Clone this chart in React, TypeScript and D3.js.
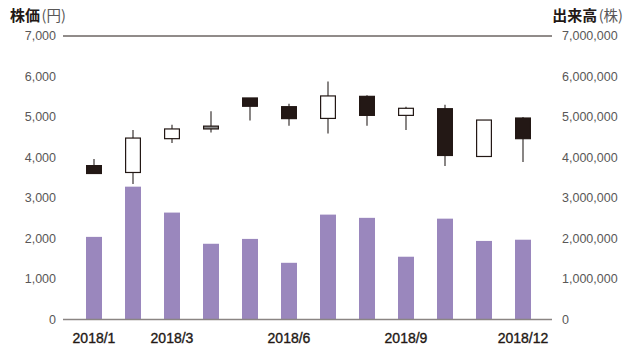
import React from "react";
import * as d3 from "d3";

const months = ["2018/1","2018/2","2018/3","2018/4","2018/5","2018/6","2018/7","2018/8","2018/9","2018/10","2018/11","2018/12"];
const openPrice = [3800, 3630, 4465, 4705, 5470, 5255, 4965, 5510, 5040, 5205, 4025, 4975];
const closePrice = [3605, 4480, 4705, 4775, 5265, 4960, 5520, 5040, 5215, 4050, 4925, 4465];
const highPrice = [3960, 4680, 4810, 5140, 5470, 5330, 5875, 5535, 5255, 5300, 4925, 5000];
const lowPrice = [3605, 3345, 4360, 4620, 4915, 4785, 4590, 4785, 4680, 3790, 4010, 3890];
const volume = [2040000, 3280000, 2640000, 1870000, 1990000, 1400000, 2590000, 2510000, 1550000, 2490000, 1940000, 1970000];
const priceTicks = [0, 1000, 2000, 3000, 4000, 5000, 6000, 7000];
const volumeTicks = [0, 1000000, 2000000, 3000000, 4000000, 5000000, 6000000, 7000000];
const xTickLabels = ["2018/1", "2018/3", "2018/6", "2018/9", "2018/12"];

const W = 625, H = 347;
const plotLeft = 63, plotRight = 552, yTop = 36, yBottom = 319.5;

export default function App() {
  const x = d3.scaleBand<string>().domain(months).range([74.5, 542.5]).paddingInner(0.59).paddingOuter(0.295);
  const yP = d3.scaleLinear().domain([0, 7000]).range([yBottom, yTop]);
  const yV = d3.scaleLinear().domain([0, 7000000]).range([yBottom, yTop]);
  const fmt = d3.format(",");
  const bw = x.bandwidth();
  const dark = "#231815";
  const tickFont = "'Liberation Sans', Arial, sans-serif";
  const cjk = "'Noto Sans CJK JP', sans-serif";

  return (
    <svg width={W} height={H} style={{ position: "absolute", left: 0, top: 0 }}>
      <rect width={W} height={H} fill="#fff" />
      {months.map((m, i) => (
        <rect key={"v" + m} x={x(m)} y={yV(volume[i])} width={bw} height={yV(0) - yV(volume[i])} fill="#9a87bd" />
      ))}
      <line x1={plotLeft} x2={plotRight} y1={yP(7000)} y2={yP(7000)} stroke={dark} strokeWidth={1} />
      <line x1={plotLeft} x2={plotRight} y1={yP(0)} y2={yP(0)} stroke="#8a8583" strokeWidth={1.5} />
      {months.map((m, i) => {
        const o = openPrice[i], c = closePrice[i];
        const cx = (x(m) as number) + bw / 2;
        const up = c >= o;
        const doji = Math.abs(c - o) < 100;
        const fill = doji ? "#8c8c8c" : up ? "#fff" : dark;
        const top = yP(Math.max(o, c)), bot = yP(Math.min(o, c));
        return (
          <g key={"c" + m}>
            <line x1={cx} x2={cx} y1={yP(highPrice[i])} y2={yP(lowPrice[i])} stroke="#4a4443" strokeWidth={1.3} />
            <rect x={(x(m) as number) + 0.6} y={top} width={bw - 1.2} height={Math.max(bot - top, 1)} fill={fill} stroke={dark} strokeWidth={1.2} />
          </g>
        );
      })}
      {priceTicks.map(t => (
        <text key={"p" + t} x={56} y={yP(t)} dy="0.35em" textAnchor="end" fontFamily={tickFont} fontSize={12.5} fill="#595757">{fmt(t)}</text>
      ))}
      {volumeTicks.map(t => (
        <text key={"r" + t} x={562} y={yV(t)} dy="0.35em" textAnchor="start" fontFamily={tickFont} fontSize={12.5} fill="#595757">{fmt(t)}</text>
      ))}
      {xTickLabels.map(l => (
        <text key={"x" + l} x={(x(l) as number) + bw / 2} y={343} textAnchor="middle" fontFamily={tickFont} fontSize={14} fill={dark} stroke={dark} strokeWidth={0.35}>{l}</text>
      ))}
      <text x={10} y={20.5} fontFamily={cjk} fontSize={15} fill={dark}>
        <tspan fontWeight="bold">株価</tspan>
        <tspan dx={1.5} fill="#595757" fontSize={14.5}>(円)</tspan>
      </text>
      <text x={623} y={20.5} textAnchor="end" fontFamily={cjk} fontSize={15} fill={dark}>
        <tspan fontWeight="bold">出来高</tspan>
        <tspan dx={1.5} fill="#595757" fontSize={14.5}>(株)</tspan>
      </text>
    </svg>
  );
}
